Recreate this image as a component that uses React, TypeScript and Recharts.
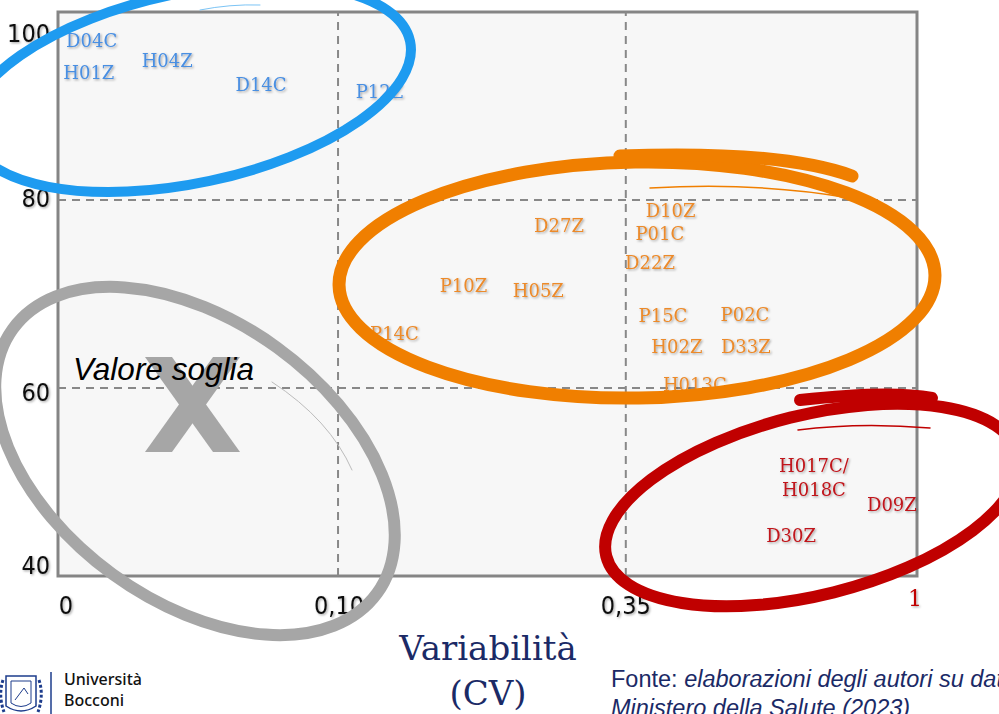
import { ReferenceArea, ReferenceLine, Scatter, ScatterChart, XAxis, YAxis } from 'recharts'

// CV axis is not linear: each tick interval gets roughly the same width
const CV_TICKS = [0, 0.1, 0.35, 1]
const CV_TICK_LABELS = ['0', '0,10', '0,35', '1']
const CV_TICK_POS = [0, 0.326, 0.661, 1]
const SCORE_TICKS = [40, 60, 80, 100]

const blueLabels = ['D04C', 'H01Z', 'H04Z', 'D14C', 'P12Z']
const blueCv = [0.012, 0.011, 0.039, 0.0725, 0.136]
const blueScore = [97.0, 93.6, 94.9, 92.3, 91.6]

const orangeLabels = ['D27Z', 'D10Z', 'P01C', 'D22Z', 'P10Z', 'H05Z', 'P15C', 'P02C', 'P14C', 'H02Z', 'D33Z', 'H013C']
const orangeCv = [0.292, 0.45, 0.426, 0.404, 0.209, 0.274, 0.433, 0.616, 0.149, 0.464, 0.618, 0.504]
const orangeScore = [77.3, 78.9, 76.5, 73.4, 71.0, 70.4, 67.8, 67.9, 65.9, 64.5, 64.5, 60.4]

const redLabels = ['H017C/ H018C', 'D09Z', 'D30Z']
const redCv = [0.77, 0.944, 0.719]
const redScore = [50.5, 47.7, 44.4]

const cvToAxis = (cv: number) => {
  for (let i = 0; i < CV_TICKS.length - 1; i++) {
    const a = CV_TICKS[i]
    const b = CV_TICKS[i + 1]
    if (cv <= b) {
      const t = (cv - a) / (b - a)
      return CV_TICK_POS[i] + t * (CV_TICK_POS[i + 1] - CV_TICK_POS[i])
    }
  }
  return 1
}

const build = (labels: string[], cv: number[], score: number[]) =>
  labels.map((label, i) => ({ label, x: cvToAxis(cv[i]), y: score[i] }))

const blueData = build(blueLabels, blueCv, blueScore)
const orangeData = build(orangeLabels, orangeCv, orangeScore)
const redData = build(redLabels, redCv, redScore)

const SLAB = '"DejaVu Serif", "Liberation Serif", serif'
const NARROW = '"Liberation Sans Narrow", "DejaVu Sans Condensed", "Liberation Sans", sans-serif'
const SANS = '"Liberation Sans", Arial, sans-serif'
const NAVY = '#1b2a66'

function makeLabel(color: string) {
  return (props: any) => {
    const { cx, cy, payload } = props
    const lines: string[] = payload.label.split(' ')
    const first = cy - ((lines.length - 1) * 24) / 2
    return (
      <text
        textAnchor="middle"
        dominantBaseline="central"
        fontFamily={SLAB}
        fontSize={18}
        fill={color}
        filter="url(#txtShadow)"
      >
        {lines.map((ln, i) => (
          <tspan key={i} x={cx} y={first + i * 24}>
            {ln}
          </tspan>
        ))}
      </text>
    )
  }
}

const yNudge: Record<number, number> = { 100: 21, 80: -2, 60: 4, 40: -11 }

function ScoreTick(props: any) {
  const { x, y, payload } = props
  return (
    <text
      x={x - 8}
      y={y + (yNudge[payload.value] ?? 0)}
      textAnchor="end"
      dominantBaseline="central"
      fontFamily={NARROW}
      fontSize={25}
      fill="#111"
      filter="url(#txtShadow)"
    >
      {payload.value}
    </text>
  )
}

const xNudge = [8, 1, 0, -2]

function CvTick(props: any) {
  const { x, y, index } = props
  const last = index === CV_TICK_LABELS.length - 1
  return (
    <text
      x={x + xNudge[index]}
      y={y + (last ? 22 : 29)}
      textAnchor="middle"
      dominantBaseline="central"
      fontFamily={last ? SLAB : NARROW}
      fontSize={last ? 22 : 25}
      fill={last ? '#c00000' : '#111'}
      filter="url(#txtShadow)"
    >
      {CV_TICK_LABELS[index]}
    </text>
  )
}

function Annotations() {
  return (
    <svg width={999} height={714} style={{ position: 'absolute', left: 0, top: 0, pointerEvents: 'none' }}>
      {/* threshold marker */}
      <g fill="#a6a6a6">
        <polygon points="145,357 172,357 240,452 213,452" />
        <polygon points="240,357 213,357 145,452 172,452" />
      </g>
      <text x={73} y={380} fontFamily={SANS} fontStyle="italic" fontSize={31.5} fill="#000">
        Valore soglia
      </text>

      {/* hand-drawn groupings */}
      <g fill="none" strokeLinecap="round">
        <ellipse cx={195} cy={461} rx={225} ry={140} transform="rotate(36 195 461)" stroke="#a6a6a6" strokeWidth={12} />
        <path d="M272 382 Q330 420 352 470" stroke="#bcbcbc" strokeWidth={1} />

        <ellipse cx={190} cy={88} rx={225} ry={95} transform="rotate(-12 190 88)" stroke="#1e9bf0" strokeWidth={10} />
        <path d="M200 10 Q230 4 260 5" stroke="#7cc4f5" strokeWidth={1} />

        <ellipse cx={637} cy={280} rx={298} ry={118} transform="rotate(-1 637 280)" stroke="#f07f00" strokeWidth={13} />
        <path d="M620 156 Q780 150 852 176" stroke="#f07f00" strokeWidth={13} />
        <path d="M650 188 Q760 182 850 198" stroke="#f07f00" strokeWidth={1.5} />

        <ellipse cx={812} cy={505} rx={212} ry={90} transform="rotate(-14 812 505)" stroke="#c00000" strokeWidth={12} />
        <path d="M800 400 Q890 390 932 398" stroke="#c00000" strokeWidth={12} />
        <path d="M798 430 Q860 422 930 428" stroke="#c00000" strokeWidth={1.5} />
      </g>

      {/* axis title */}
      <text x={488} y={660} textAnchor="middle" fontFamily={SLAB} fontSize={34} fill={NAVY}>
        Variabilità
      </text>
      <text x={488} y={705} textAnchor="middle" fontFamily={SLAB} fontSize={34} fill={NAVY}>
        (CV)
      </text>

      {/* source note */}
      <text x={611} y={687} fontFamily={SANS} fontSize={23.5} fill={NAVY}>
        Fonte: <tspan fontStyle="italic">elaborazioni degli autori su dati del</tspan>
      </text>
      <text x={611} y={716} fontFamily={SANS} fontSize={23.5} fontStyle="italic" fill={NAVY}>
        Ministero della Salute (2023)
      </text>

      {/* university mark */}
      <g stroke="#1d3c8c" fill="none" strokeWidth={1.5}>
        <path d="M6 676 L36 676 L36 706 Q21 716 6 706 Z" />
        <path d="M11 681 L31 681 L31 703 Q21 710 11 703 Z" strokeWidth={1} />
        <path d="M15 700 L24 688 L28 694" strokeWidth={1} />
        <path d="M3 680 Q-2 695 4 712 M39 680 Q44 695 38 712" strokeWidth={3} strokeDasharray="3 2" />
        <line x1={51} y1={672} x2={51} y2={714} />
      </g>
      <text x={64} y={685} fontFamily='"Noto Sans", sans-serif' fontSize={16} fontWeight={500} fill="#111">
        Università
      </text>
      <text x={64} y={706} fontFamily='"Noto Sans", sans-serif' fontSize={16} fontWeight={500} fill="#111">
        Bocconi
      </text>
    </svg>
  )
}

export default function App() {
  return (
    <div style={{ position: 'absolute', left: 0, top: 0, width: 999, height: 714, overflow: 'hidden', background: '#fff' }}>
      <svg width={0} height={0} style={{ position: 'absolute' }}>
        <defs>
          <filter id="txtShadow" x="-20%" y="-30%" width="140%" height="160%">
            <feDropShadow dx={1.2} dy={1.2} stdDeviation={0.8} floodColor="#000" floodOpacity={0.35} />
          </filter>
        </defs>
      </svg>
      <ScatterChart width={999} height={714} margin={{ top: 12, right: 82, bottom: 108, left: 0 }}>
        <XAxis
          type="number"
          dataKey="x"
          domain={[0, 1]}
          ticks={CV_TICK_POS}
          height={30}
          tickSize={0}
          tickMargin={0}
          axisLine={false}
          tickLine={false}
          tick={<CvTick />}
        />
        <YAxis
          type="number"
          dataKey="y"
          domain={[40, 100]}
          ticks={SCORE_TICKS}
          width={58}
          tickSize={0}
          tickMargin={0}
          axisLine={false}
          tickLine={false}
          tick={<ScoreTick />}
        />
        <ReferenceArea x1={0} x2={1} y1={40} y2={100} fill="#f7f7f7" fillOpacity={1} stroke="#858585" strokeWidth={3} />
        <ReferenceLine x={cvToAxis(0.1)} stroke="#888" strokeWidth={2} strokeDasharray="8 6" />
        <ReferenceLine x={cvToAxis(0.35)} stroke="#888" strokeWidth={2} strokeDasharray="8 6" />
        <ReferenceLine y={60} stroke="#888" strokeWidth={2} strokeDasharray="8 6" />
        <ReferenceLine y={80} stroke="#888" strokeWidth={2} strokeDasharray="8 6" />
        <Scatter data={blueData} shape={makeLabel('#4a8fe2')} isAnimationActive={false} />
        <Scatter data={orangeData} shape={makeLabel('#ec8a2a')} isAnimationActive={false} />
        <Scatter data={redData} shape={makeLabel('#c0141a')} isAnimationActive={false} />
      </ScatterChart>
      <Annotations />
    </div>
  )
}
